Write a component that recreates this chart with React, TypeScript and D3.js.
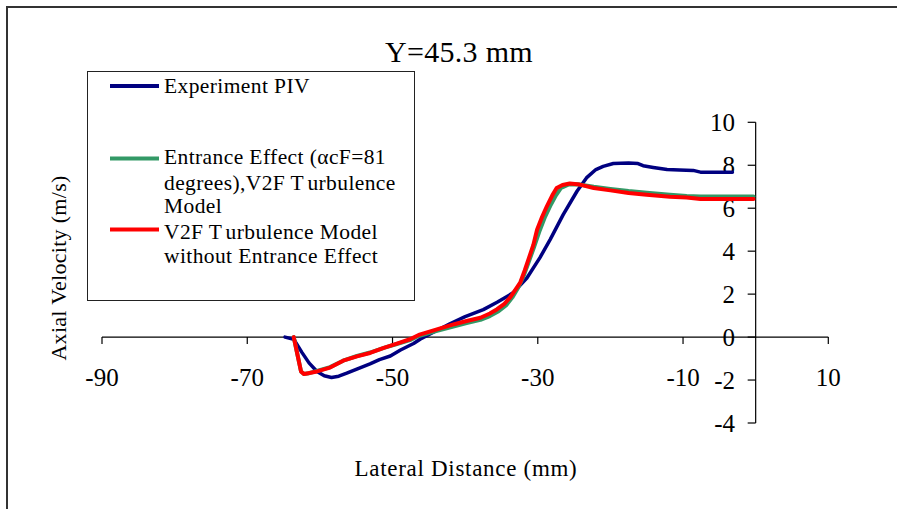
import React from "react";
import * as d3 from "d3";

const pivX = [-64.8, -63.6, -62.5, -61.5, -60.4, -59.4, -58.4, -57.4, -56.3, -55.0, -53.1, -51.8, -50.3, -48.9, -47.1, -46.2, -44.5, -42.1, -40.0, -37.5, -35.6, -33.4, -31.5, -29.7, -28.3, -26.5, -24.6, -23.3, -22.0, -21.0, -19.6, -17.5, -16.2, -15.5, -14.1, -12.2, -10.5, -8.6, -7.6, -5.5, -3.2];
const pivV = [0.0, -0.1, -0.7, -1.2, -1.6, -1.8, -1.88, -1.82, -1.68, -1.5, -1.25, -1.05, -0.88, -0.6, -0.3, -0.1, 0.2, 0.62, 0.95, 1.28, 1.62, 2.06, 2.75, 3.7, 4.54, 5.7, 6.79, 7.41, 7.8, 7.95, 8.08, 8.1, 8.08, 7.98, 7.9, 7.8, 7.78, 7.76, 7.68, 7.68, 7.68];

const entX = [-63.6, -63.1, -62.6, -62.2, -61.5, -60.4, -58.6, -56.8, -54.9, -53.1, -51.2, -49.4, -47.6, -46.4, -44.0, -41.5, -39.8, -37.9, -36.6, -35.4, -34.3, -33.5, -32.7, -32.0, -31.3, -30.5, -29.8, -29.0, -28.3, -27.5, -26.8, -25.8, -24.5, -22.3, -20.0, -17.5, -15.0, -11.8, -9.5, -7.6, -0.3];
const entV = [0.0, -0.8, -1.6, -1.72, -1.68, -1.58, -1.4, -1.1, -0.88, -0.72, -0.5, -0.32, -0.14, 0.05, 0.28, 0.5, 0.65, 0.8, 0.98, 1.2, 1.5, 1.85, 2.3, 2.8, 3.45, 4.2, 4.9, 5.6, 6.1, 6.6, 6.95, 7.1, 7.12, 7.0, 6.9, 6.8, 6.72, 6.63, 6.57, 6.55, 6.55];

const v2fX = [-63.6, -63.1, -62.6, -62.2, -61.6, -60.4, -58.6, -56.8, -54.9, -53.1, -51.2, -49.4, -47.6, -46.4, -44.0, -41.5, -39.8, -37.9, -36.6, -35.6, -34.6, -33.8, -33.0, -32.4, -31.8, -31.2, -30.6, -30.1, -29.4, -28.75, -28.0, -27.4, -26.6, -25.6, -24.2, -22.3, -20.0, -17.5, -15.0, -11.8, -9.5, -7.6, -0.3];
const v2fV = [0.0, -0.8, -1.6, -1.72, -1.68, -1.6, -1.42, -1.1, -0.9, -0.74, -0.5, -0.3, -0.1, 0.1, 0.35, 0.6, 0.75, 0.9, 1.1, 1.3, 1.55, 1.85, 2.25, 2.55, 3.1, 3.7, 4.3, 5.0, 5.6, 6.09, 6.6, 6.94, 7.08, 7.15, 7.1, 6.94, 6.83, 6.71, 6.63, 6.53, 6.5, 6.43, 6.43];

const xTicks = [-90, -70, -50, -30, -10, 10];
const yTicks = [-4, -2, 0, 2, 4, 6, 8, 10];

const seriesNames = ["Experiment PIV", "Entrance Effect", "V2F Turbulence Model without Entrance Effect"];
const seriesColors = ["#000080", "#339966", "#ff0000"];

const FONT = "'Liberation Serif', 'Times New Roman', serif";

export default function App() {
  const x = d3.scaleLinear().domain([-90, 10]).range([102, 828.3]);
  const y = d3.scaleLinear().domain([-4, 10]).range([423, 122.3]);
  const line = d3
    .line<[number, number]>()
    .x((d) => x(d[0]))
    .y((d) => y(d[1]));

  const series = [
    { xs: pivX, vs: pivV, color: seriesColors[0], w: 3.5 },
    { xs: entX, vs: entV, color: seriesColors[1], w: 4 },
    { xs: v2fX, vs: v2fV, color: seriesColors[2], w: 4 },
  ];

  const x0 = x(0);
  const y0 = y(0);

  const legendText: React.CSSProperties = { fontFamily: FONT, fontSize: 21.5, letterSpacing: 0.4 };

  return (
    <svg
      width={897}
      height={509}
      style={{ position: "absolute", left: 0, top: 0, background: "#fff" }}
    >
      <rect x={0} y={0} width={897} height={509} fill="#fff" />
      <rect x={7} y={7} width={1000} height={1000} fill="none" stroke="#333" strokeWidth={2} />

      <text x={459} y={62} textAnchor="middle" style={{ fontFamily: FONT, fontSize: 30, letterSpacing: 0.3 }}>
        Y=45.3 mm
      </text>

      {/* x axis */}
      <line x1={x(-90)} x2={x(10)} y1={y0} y2={y0} stroke="#000" strokeWidth={1.2} />
      {xTicks.map((t) => (
        <g key={"xt" + t}>
          <line x1={x(t)} x2={x(t)} y1={y0} y2={y0 + 7} stroke="#000" strokeWidth={1.2} />
          <text x={x(t)} y={385.5} textAnchor="middle" style={{ fontFamily: FONT, fontSize: 25 }}>
            {t}
          </text>
        </g>
      ))}

      {/* y axis */}
      <line x1={x0} x2={x0} y1={y(10)} y2={y(-4)} stroke="#000" strokeWidth={1.2} />
      {yTicks.map((t) => (
        <g key={"yt" + t}>
          <line x1={x0 - 8} x2={x0} y1={y(t)} y2={y(t)} stroke="#000" strokeWidth={1.2} />
          <text x={735} y={y(t) + 8.5} textAnchor="end" style={{ fontFamily: FONT, fontSize: 25 }}>
            {t}
          </text>
        </g>
      ))}

      {series.map((s, i) => (
        <path
          key={"s" + i}
          d={line(s.xs.map((xv, j) => [xv, s.vs[j]] as [number, number])) || ""}
          fill="none"
          stroke={s.color}
          strokeWidth={s.w}
          strokeLinejoin="round"
          strokeLinecap="round"
        />
      ))}

      <text x={466} y={476} textAnchor="middle" style={{ fontFamily: FONT, fontSize: 23, letterSpacing: 0.7 }}>
        Lateral Distance (mm)
      </text>
      <text
        transform="translate(66,268) rotate(-90)"
        textAnchor="middle"
        style={{ fontFamily: FONT, fontSize: 22, letterSpacing: 0.3 }}
      >
        Axial Velocity (m/s)
      </text>

      {/* legend */}
      <rect x={87.5} y={71.5} width={327} height={229} fill="#fff" stroke="#222" strokeWidth={1} />
      <line x1={110} x2={159} y1={86} y2={86} stroke={seriesColors[0]} strokeWidth={4} />
      <text x={164} y={93} style={legendText}>{seriesNames[0]}</text>

      <line x1={110} x2={159} y1={158.5} y2={158.5} stroke={seriesColors[1]} strokeWidth={4} />
      <text x={164} y={164} style={legendText}>Entrance Effect (αcF=81</text>
      <text x={164} y={189.5} style={legendText}>
        degrees),V2F T<tspan dx={4}>urbulence</tspan>
      </text>
      <text x={164} y={212.5} style={legendText}>Model</text>

      <line x1={110} x2={159} y1={229.5} y2={229.5} stroke={seriesColors[2]} strokeWidth={4} />
      <text x={164} y={238.5} style={legendText}>
        V2F T<tspan dx={4}>urbulence Model</tspan>
      </text>
      <text x={164} y={262.5} style={legendText}>without Entrance Effect</text>
    </svg>
  );
}
